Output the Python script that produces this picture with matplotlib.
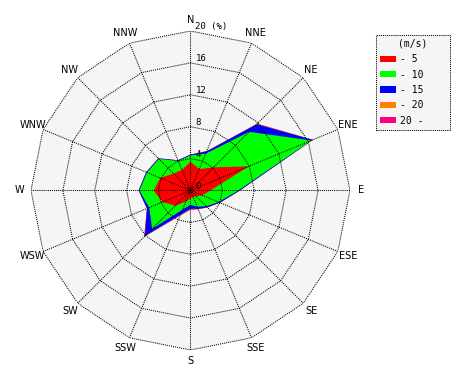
import numpy as np
import matplotlib
matplotlib.use("Agg")
from matplotlib import pyplot as plt
from matplotlib.patches import Patch

# 16 wind directions, clockwise from north
directions = ["N", "NNE", "NE", "ENE", "E", "ESE", "SE", "SSE",
              "S", "SSW", "SW", "WSW", "W", "WNW", "NW", "NNW"]
speed_labels = ["- 5", "- 10", "- 15", "- 20", "20 -"]
colors = ["#ff0000", "#00ff00", "#0000ff", "#ff8000", "#ff0080"]

# frequency (%) per speed class and direction
freq_5 = [3.6, 2.9, 4.1, 7.9, 2.5, 1.6, 1.0, 0.9, 1.0, 1.5, 2.7, 3.8, 4.6, 4.1, 3.0, 2.8]
freq_10 = [0.8, 2.1, 6.3, 8.5, 3.5, 2.2, 1.8, 1.3, 0.8, 1.1, 4.1, 1.8, 1.8, 1.8, 2.6, 1.2]
freq_15 = [0.1, 0.3, 1.35, 0.2, 0.2, 0.2, 0.2, 0.3, 0.5, 0.7, 1.3, 0.3, 0.1, 0.1, 0.1, 0.1]
freq_20 = [0.0, 0.05, 0.1, 0.0, 0.0, 0.0, 0.0, 0.05, 0.1, 0.1, 0.1, 0.0, 0.0, 0.0, 0.0, 0.0]
freq_over = [0.0, 0.0, 0.0, 0.0, 0.0, 0.0, 0.0, 0.0, 0.03, 0.03, 0.03, 0.0, 0.0, 0.0, 0.0, 0.0]

ring_values = [0, 4, 8, 12, 16, 20]
ring_labels = ["0", "4", "8", "12", "16", "20 (%)"]
rmax = 20

theta = np.deg2rad(np.arange(len(directions)) * 22.5)
theta_c = np.append(theta, theta[0])

def closed(v):
    v = list(v)
    return v + [v[0]]

fig = plt.figure(figsize=(4.7, 3.8), dpi=100)
ax = fig.add_axes([0.0659, 0.0790, 0.6787, 0.8395], projection="polar")
ax.set_theta_zero_location("N")
ax.set_theta_direction(-1)
ax.set_ylim(0, rmax)
ax.axis("off")

# light gray background polygon
ax.fill(theta_c, [rmax] * len(theta_c), color="#f5f5f5", lw=0, zorder=0)

# stacked (cumulative) rose, largest first
cum = np.cumsum(np.array([freq_5, freq_10, freq_15, freq_20, freq_over]), axis=0)
for i in reversed(range(len(colors))):
    ax.fill(theta_c, closed(cum[i]), color=colors[i], lw=0, zorder=2 + (len(colors) - i))

# dotted polygon grid on top
dot = (0, (1, 1))
for r in ring_values[1:]:
    ax.plot(theta_c, [r] * len(theta_c), color="black", lw=0.75, ls=dot, zorder=10)
for t in theta:
    ax.plot([t, t], [0, rmax], color="black", lw=0.75, ls=dot, zorder=10)

for t, name in zip(theta, directions):
    ax.text(t, 21.4, name, ha="center", va="center", fontsize=7,
            family="DejaVu Sans", clip_on=False)

for r, lab in zip(ring_values, ring_labels):
    ax.annotate(lab, xy=(0, r), xytext=(5, 4), textcoords="offset pixels",
                ha="left", va="center", fontsize=6.5, family="DejaVu Sans Mono",
                zorder=11, annotation_clip=False)

handles = [Patch(facecolor=c, edgecolor="none") for c in colors]
leg = fig.legend(handles, speed_labels, title="(m/s)", loc="upper left",
                 bbox_to_anchor=(376 / 470, 1 - 35 / 380, 74 / 470, 0),
                 mode="expand", borderaxespad=0, fancybox=False, framealpha=1,
                 handlelength=1.65, handleheight=0.6, handletextpad=0.4,
                 labelspacing=0.55, prop={"family": "DejaVu Sans Mono", "size": 7},
                 title_fontproperties={"family": "DejaVu Sans Mono", "size": 7})
frame = leg.get_frame()
frame.set_facecolor("#f5f5f5")
frame.set_edgecolor("black")
frame.set_linewidth(0.75)
frame.set_linestyle(dot)

fig.savefig("out.png", dpi=100)
